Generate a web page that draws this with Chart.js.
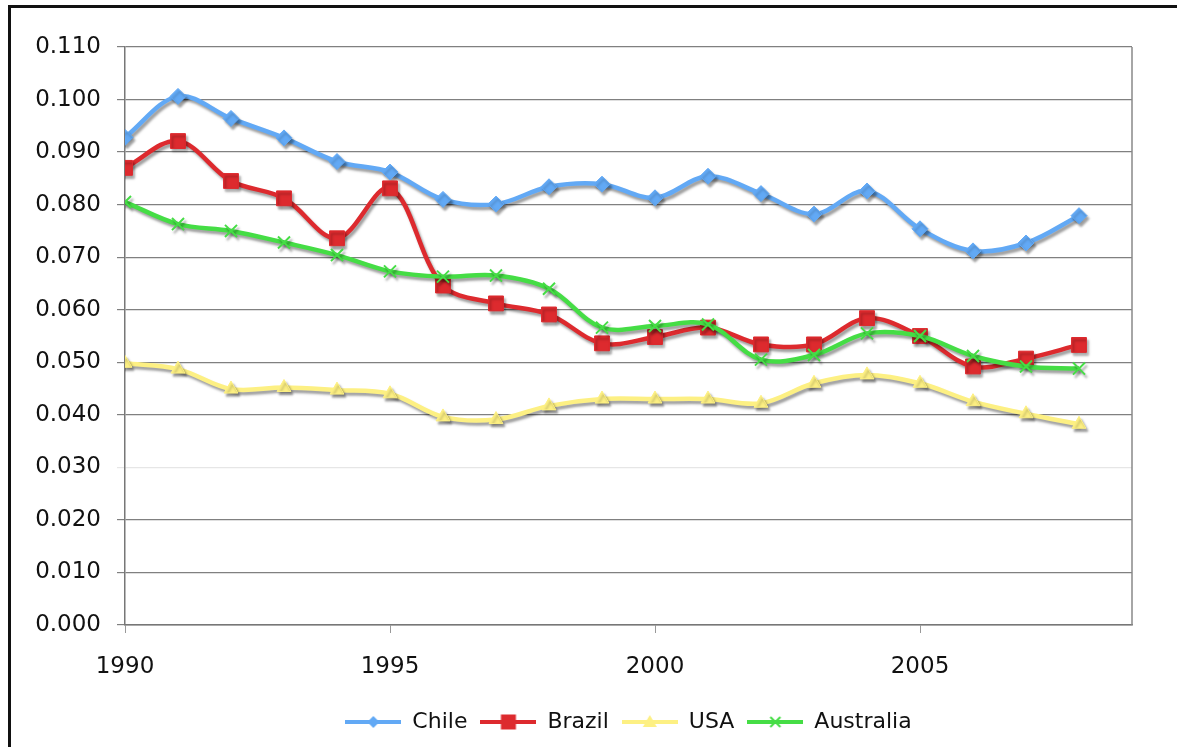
<!DOCTYPE html>
<html>
<head>
<meta charset="utf-8">
<script src="https://cdn.jsdelivr.net/npm/chart.js@4.4.1/dist/chart.umd.min.js"></script>
<style>
  html, body { margin: 0; padding: 0; background: #fff; }
  #wrap { position: relative; width: 1177px; height: 747px; }
</style>
</head>
<body>
<div id="wrap"><canvas id="chart" width="1177" height="747"></canvas></div>
<script>
// years on the x axis
var years = [1990, 1991, 1992, 1993, 1994, 1995, 1996, 1997, 1998, 1999,
             2000, 2001, 2002, 2003, 2004, 2005, 2006, 2007, 2008];

var chile = [0.0928, 0.1006, 0.0964, 0.0927, 0.0882, 0.0862, 0.0810, 0.0801, 0.0834, 0.0839,
             0.0813, 0.0854, 0.0821, 0.0782, 0.0826, 0.0754, 0.0712, 0.0727, 0.0779];
var brazil = [0.0870, 0.0921, 0.0845, 0.0812, 0.0736, 0.0831, 0.0646, 0.0612, 0.0591, 0.0536,
              0.0548, 0.0566, 0.0534, 0.0534, 0.0584, 0.0550, 0.0492, 0.0507, 0.0533];
var usa = [0.0498, 0.0487, 0.0449, 0.0452, 0.0447, 0.0440, 0.0396, 0.0391, 0.0417, 0.0430,
           0.0430, 0.0430, 0.0422, 0.0460, 0.0476, 0.0460, 0.0425, 0.0402, 0.0382];
var australia = [0.0805, 0.0763, 0.0750, 0.0728, 0.0704, 0.0673, 0.0663, 0.0665, 0.0640, 0.0566,
                 0.0569, 0.0572, 0.0505, 0.0514, 0.0555, 0.0550, 0.0512, 0.0492, 0.0488];

var seriesNames = ["Chile", "Brazil", "USA", "Australia"];
var seriesColors = ["#62a9f5", "#dd2a2e", "#fdf083", "#45dd45"];
var seriesMarkers = ["rectRot", "rect", "triangle", "crossRot"];

var FONT = "'DejaVu Sans', Verdana, sans-serif";

function toPoints(values) {
  var pts = [];
  for (var i = 0; i < years.length; i++) {
    pts.push({ x: years[i], y: values[i] });
  }
  return pts;
}

var markerRadius = { rectRot: 8, rect: 10.5, triangle: 8, crossRot: 8.5 };

function makeDataset(idx, values) {
  var style = seriesMarkers[idx];
  var c = seriesColors[idx];
  return {
    label: seriesNames[idx],
    data: toPoints(values),
    borderColor: c,
    backgroundColor: c,
    borderWidth: 4.5,
    tension: 0.35,
    pointStyle: style,
    pointRadius: markerRadius[style],
    pointBorderColor: c,
    pointBackgroundColor: c,
    pointBorderWidth: style == "crossRot" ? 2 : 1,
    order: 3 - idx
  };
}

// little legend swatch: line with marker in the middle
function legendSwatch(idx) {
  var cv = document.createElement("canvas");
  cv.width = 56;
  cv.height = 20;
  var g = cv.getContext("2d");
  var c = seriesColors[idx];
  g.strokeStyle = c;
  g.fillStyle = c;
  g.lineWidth = 4;
  g.beginPath();
  g.moveTo(0, 10);
  g.lineTo(56, 10);
  g.stroke();
  var cx = 28, cy = 10;
  var style = seriesMarkers[idx];
  g.beginPath();
  if (style == "rectRot") {
    g.moveTo(cx - 6, cy); g.lineTo(cx, cy - 6); g.lineTo(cx + 6, cy); g.lineTo(cx, cy + 6);
    g.closePath(); g.fill();
  } else if (style == "rect") {
    g.fillRect(cx - 7.5, cy - 7.5, 15, 15);
  } else if (style == "triangle") {
    g.moveTo(cx - 7, cy + 5); g.lineTo(cx, cy - 7); g.lineTo(cx + 7, cy + 5);
    g.closePath(); g.fill();
  } else {
    g.lineWidth = 2;
    g.moveTo(cx - 5, cy - 5); g.lineTo(cx + 5, cy + 5);
    g.moveTo(cx + 5, cy - 5); g.lineTo(cx - 5, cy + 5);
    g.stroke();
  }
  return cv;
}

var framePlugin = {
  id: "frame",
  beforeDraw: function(chart) {
    var ctx = chart.ctx;
    ctx.save();
    ctx.fillStyle = "#111";
    ctx.fillRect(8, 5, 3, 742);
    ctx.fillRect(8, 5, 1169, 3);
    ctx.restore();
  },
  beforeDatasetsDraw: function(chart) {
    var ctx = chart.ctx;
    // right edge of the plot box
    var a = chart.chartArea;
    ctx.save();
    ctx.strokeStyle = "#888";
    ctx.lineWidth = 1.5;
    ctx.beginPath();
    ctx.moveTo(a.right, a.top);
    ctx.lineTo(a.right, a.bottom);
    ctx.stroke();
    ctx.restore();
    // grey drop shadow under the series
    ctx.save();
    ctx.shadowColor = "rgba(0,0,0,0.38)";
    ctx.shadowOffsetX = 2;
    ctx.shadowOffsetY = 3;
    ctx.shadowBlur = 2.5;
  },
  afterDatasetsDraw: function(chart) {
    chart.ctx.restore();
  }
};

var ctx = document.getElementById("chart").getContext("2d");
var chart = new Chart(ctx, {
  type: "line",
  data: {
    datasets: [
      makeDataset(0, chile),
      makeDataset(1, brazil),
      makeDataset(2, usa),
      makeDataset(3, australia)
    ]
  },
  plugins: [framePlugin],
  options: {
    responsive: false,
    animation: false,
    layout: { padding: { left: 20, right: 45, top: 47, bottom: 4 } },
    plugins: {
      tooltip: { enabled: false },
      legend: {
        position: "bottom",
        fullSize: false,
        labels: {
          font: { family: FONT, size: 22 },
          color: "#111",
          usePointStyle: true,
          pointStyleWidth: 56,
          padding: 13,
          generateLabels: function(ch) {
            return seriesNames.map(function(n, i) {
              return {
                text: n,
                datasetIndex: i,
                pointStyle: legendSwatch(i),
                fillStyle: seriesColors[i],
                strokeStyle: seriesColors[i],
                lineWidth: 0,
                hidden: false,
                fontColor: "#111"
              };
            });
          }
        }
      }
    },
    scales: {
      x: {
        type: "linear",
        min: 1990,
        max: 2009,
        afterFit: function(scale) { scale.height = 73; },
        ticks: {
          stepSize: 5,
          includeBounds: false,
          font: { family: FONT, size: 23 },
          color: "#111",
          padding: 20,
          maxRotation: 0,
          callback: function(v) { return String(v); }
        },
        grid: { drawOnChartArea: false, drawTicks: true, tickLength: 8, color: "#999" },
        border: { color: "#777", width: 1.5 }
      },
      y: {
        min: 0,
        max: 0.11,
        afterFit: function(scale) { scale.width = 105; },
        ticks: {
          stepSize: 0.01,
          font: { family: FONT, size: 23 },
          color: "#111",
          padding: 16,
          callback: function(v) { return v.toFixed(3); }
        },
        grid: {
          tickLength: 8,
          lineWidth: 1.2,
          color: function(c) {
            if (c.tick && Math.abs(c.tick.value - 0.03) < 1e-6) return "#e6e6e6";
            return "#808080";
          }
        },
        border: { color: "#777", width: 1.5 }
      }
    }
  }
});
</script>
</body>
</html>
